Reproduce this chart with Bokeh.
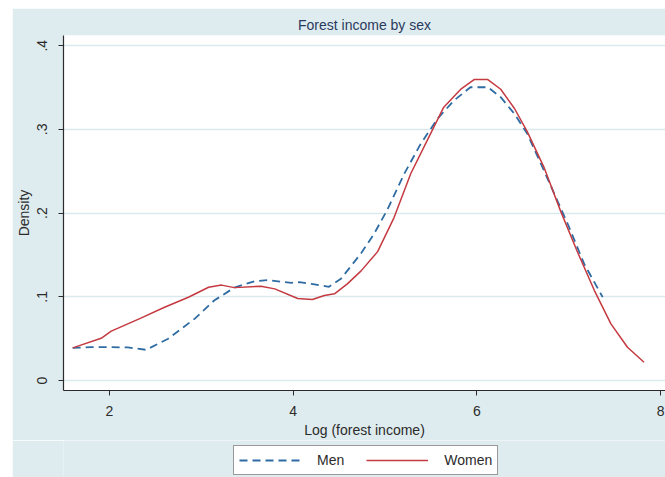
from bokeh.plotting import figure
from bokeh.layouts import column
from bokeh.models import FixedTicker, Legend, LegendItem, Range1d
from bokeh.embed import file_html
from bokeh.resources import INLINE

# Kernel density estimates of log forest income, by sex
men_x = [1.6, 1.8, 2.0, 2.2, 2.4, 2.64, 2.93, 3.14, 3.36, 3.58, 3.72, 3.98, 4.07, 4.2,
         4.39, 4.52, 4.74, 4.88, 5.03, 5.21, 5.39, 5.57, 5.75, 5.93, 6.12, 6.26, 6.41,
         6.55, 6.73, 6.99, 7.17, 7.37]
men_y = [0.039, 0.040, 0.040, 0.0395, 0.0367, 0.050, 0.074, 0.0956, 0.111, 0.1187, 0.120,
         0.1167, 0.1175, 0.1155, 0.112, 0.1215, 0.152, 0.175, 0.205, 0.247, 0.283, 0.3125,
         0.3345, 0.3504, 0.3504, 0.3385, 0.3186, 0.2947, 0.251, 0.187, 0.139, 0.0996]

women_x = [1.6, 1.91, 2.02, 2.33, 2.60, 2.86, 3.08, 3.22, 3.36, 3.65, 3.80, 4.05, 4.21,
           4.34, 4.45, 4.59, 4.74, 4.92, 5.10, 5.28, 5.46, 5.64, 5.83, 5.97, 6.12, 6.26,
           6.41, 6.55, 6.73, 6.91, 7.09, 7.28, 7.46, 7.64, 7.82]
women_y = [0.039, 0.0505, 0.059, 0.074, 0.0876, 0.0995, 0.1115, 0.114, 0.111, 0.1127,
           0.1095, 0.098, 0.0968, 0.1016, 0.1036, 0.1155, 0.131, 0.154, 0.195, 0.247,
           0.287, 0.3266, 0.3485, 0.3596, 0.3596, 0.348, 0.325, 0.297, 0.255, 0.203,
           0.155, 0.1075, 0.0677, 0.0398, 0.0219]

x_ticks = [2, 4, 6, 8]
y_ticks = [0, 0.1, 0.2, 0.3, 0.4]
y_tick_labels = ["0", ".1", ".2", ".3", ".4"]

BG = "#dfecef"
GRID = "#d9e9ee"
INK = "#2b2b2b"
FONT = "Liberation Sans"
MEN_STYLE = dict(line_color="#2f6ca3", line_width=1.8, line_dash="8 5", line_join="round")
WOMEN_STYLE = dict(line_color="#c43a40", line_width=1.5, line_join="round")

# --- main density plot ---
p = figure(
    width=653, height=432,
    output_backend="svg", toolbar_location=None,
    x_range=Range1d(1.5, 8.054), y_range=Range1d(-0.0119, 0.4122),
    title="Forest income by sex",
    min_border_left=50, min_border_right=0, min_border_top=27, min_border_bottom=50,
)
p.margin = (8, 0, 0, 12)
p.background_fill_color = "white"
p.border_fill_color = BG
p.outline_line_color = None

p.title.align = "center"
p.title.text_font = FONT
p.title.text_font_size = "14px"
p.title.text_font_style = "normal"
p.title.text_color = "#2a3a5e"
p.title.standoff = 5

p.xaxis.ticker = FixedTicker(ticks=x_ticks)
p.yaxis.ticker = FixedTicker(ticks=y_ticks)
p.yaxis.major_label_overrides = {t: l for t, l in zip(y_ticks, y_tick_labels)}
p.yaxis.major_label_orientation = "vertical"
p.xaxis.axis_label = "Log (forest income)"
p.yaxis.axis_label = "Density"
for ax in (p.xaxis, p.yaxis):
    ax.axis_line_color = INK
    ax.axis_line_width = 1.2
    ax.major_tick_line_color = INK
    ax.major_tick_in = 0
    ax.major_tick_out = 5
    ax.minor_tick_line_color = None
    ax.major_label_text_font = FONT
    ax.major_label_text_font_size = "14px"
    ax.major_label_text_color = INK
    ax.axis_label_text_font = FONT
    ax.axis_label_text_font_size = "14px"
    ax.axis_label_text_font_style = "normal"
    ax.axis_label_text_color = INK
p.xaxis.major_label_standoff = 10
p.xaxis.axis_label_standoff = 3
p.yaxis.major_label_standoff = 11
p.yaxis.axis_label_standoff = 3

p.xgrid.grid_line_color = None
p.ygrid.grid_line_color = GRID
p.ygrid.grid_line_width = 1.3

p.line(men_x, men_y, **MEN_STYLE)
p.line(women_x, women_y, **WOMEN_STYLE)

# --- legend strip below the plot (frame aligned with the plot above) ---
lg = figure(
    width=653, height=37,
    output_backend="svg", toolbar_location=None,
    x_range=Range1d(100, 101), y_range=Range1d(100, 101),
    min_border=0,
)
lg.margin = (0, 0, 0, 12)
lg.axis.visible = False
lg.grid.visible = False
lg.outline_line_color = None
lg.background_fill_color = BG
lg.border_fill_color = BG

men_key = lg.line(men_x, men_y, **MEN_STYLE)
women_key = lg.line(women_x, women_y, **WOMEN_STYLE)

legend = Legend(
    items=[LegendItem(label="Men", renderers=[men_key]),
           LegendItem(label="Women", renderers=[women_key])],
    orientation="horizontal",
    location=(170, 2),
    glyph_width=62, glyph_height=18,
    label_standoff=16, spacing=22, padding=5, margin=0,
    label_text_font=FONT, label_text_font_size="14px", label_text_color=INK,
    border_line_color="#333333", border_line_width=1,
    background_fill_color="white", background_fill_alpha=1,
)
lg.add_layout(legend, "center")

page = column(p, lg, spacing=0)
page.margin = 0
open("out.html", "w").write(file_html(page, INLINE))
